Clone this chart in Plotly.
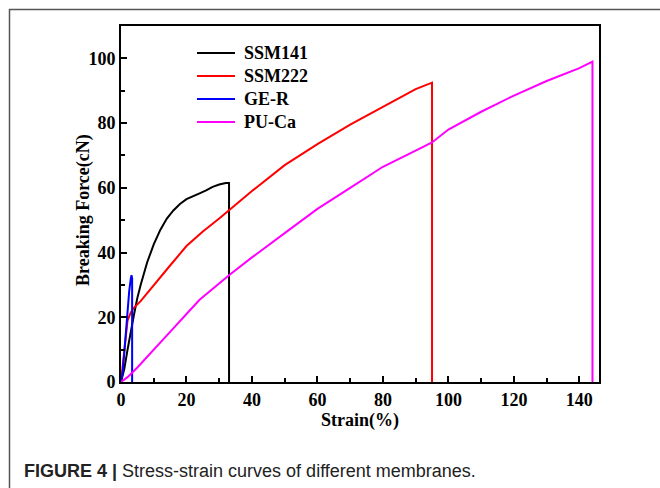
import plotly.graph_objects as go

ssm141_x = [0, 1, 2, 3, 4, 5, 6, 8, 10, 12, 14, 16, 18, 20, 22, 24, 26, 28, 30, 32, 33, 33]
ssm141_y = [0, 4, 10, 16, 21, 26, 30, 37, 42.5, 47, 50.5, 53, 55, 56.5, 57.5, 58.3, 59.2, 60.3, 61, 61.5, 61.5, 0]

ssm222_x = [0, 1, 2, 3, 4, 6, 8, 10, 15, 20, 25, 30, 33, 40, 50, 60, 70, 80, 85, 90, 95, 95]
ssm222_y = [0, 10, 19, 21.5, 23, 25, 27.5, 30, 36, 42, 46.5, 50.5, 53, 59, 67, 73.5, 79.5, 85, 87.5, 90.5, 92.5, 0]

ger_x = [0, 0.5, 1, 1.5, 2, 2.5, 3, 3.2, 3.4, 3.4]
ger_y = [0, 3, 9, 16, 22, 28, 32, 33, 32, 0]

puca_x = [0, 2, 5, 9, 15, 20, 24, 33, 40, 50, 60, 70, 80, 90, 95, 100, 110, 120, 130, 140, 144, 144]
puca_y = [0, 1.5, 4.5, 9, 15.5, 21, 25.4, 33, 38.5, 46, 53.5, 60, 66.5, 71.5, 74, 78, 83.5, 88.5, 93, 97, 99, 0]

names = ["SSM141", "SSM222", "GE-R", "PU-Ca"]
colors = ["#000000", "#ff0000", "#0000ff", "#ff00ff"]
xs = [ssm141_x, ssm222_x, ger_x, puca_x]
ys = [ssm141_y, ssm222_y, ger_y, puca_y]

x_ticks = [0, 20, 40, 60, 80, 100, 120, 140]
y_ticks = [0, 20, 40, 60, 80, 100]

fig = go.Figure()
for n, c, x, y in zip(names, colors, xs, ys):
    fig.add_trace(go.Scatter(x=x, y=y, name=n, mode="lines",
                             line=dict(color=c, width=2), showlegend=False))

serif = "Liberation Serif, Times New Roman, serif"
axis_common = dict(
    showline=True, linecolor="black", linewidth=2, mirror=True,
    ticks="inside", ticklen=6, tickwidth=2, tickcolor="black",
    showgrid=False, zeroline=False,
    minor=dict(ticks="inside", ticklen=4, tickwidth=2, tickcolor="black", dtick=10),
)
fig.update_xaxes(range=[0, 146], tickvals=x_ticks, ticktext=[str(v) for v in x_ticks],
                 tickfont=dict(family=serif, size=18, color="black", weight="bold"),
                 title=dict(text="<b>Strain(%)</b>", font=dict(family=serif, size=18, color="black"), standoff=0),
                 **axis_common)
fig.update_yaxes(range=[0, 110], tickvals=y_ticks, ticktext=[str(v) for v in y_ticks],
                 tickfont=dict(family=serif, size=18, color="black", weight="bold"),
                 **axis_common)

L, R, T, B = 121, 61, 26, 106
W, H = 660, 488
pw, ph = W - L - R, H - T - B

def px_x(p):
    return (p - L) / pw

def px_y(p):
    return (H - B - p) / ph

# y-axis title
fig.add_annotation(xref="paper", yref="paper", x=px_x(84), y=px_y(210),
                   xanchor="center", yanchor="middle", showarrow=False, textangle=-90,
                   text="<b>Breaking Force(cN)</b>",
                   font=dict(family=serif, size=18, color="black"))

# legend (manual)
leg_x0, leg_x1, leg_tx, leg_y0, leg_dy = 197, 235, 242, 53, 23
for i, (n, c) in enumerate(zip(names, colors)):
    yy = leg_y0 + i * leg_dy
    fig.add_shape(type="line", xref="paper", yref="paper",
                  x0=px_x(leg_x0), x1=px_x(leg_x1), y0=px_y(yy), y1=px_y(yy),
                  line=dict(color=c, width=2))
    fig.add_annotation(xref="paper", yref="paper", x=px_x(leg_tx), y=px_y(yy),
                       xanchor="left", yanchor="middle", showarrow=False,
                       text="<b>%s</b>" % n,
                       font=dict(family=serif, size=18, color="black"))

# outer frame
fig.add_shape(type="line", xref="paper", yref="paper",
              x0=px_x(9), x1=px_x(670), y0=px_y(9.5), y1=px_y(9.5),
              line=dict(color="#555555", width=1.5))
fig.add_shape(type="line", xref="paper", yref="paper",
              x0=px_x(9.5), x1=px_x(9.5), y0=px_y(9), y1=px_y(495),
              line=dict(color="#555555", width=1.5))

fig.add_annotation(xref="paper", yref="paper", x=px_x(22), y=px_y(471),
                   xanchor="left", yanchor="middle", showarrow=False,
                   text="<b>FIGURE 4 |</b> Stress-strain curves of different membranes.",
                   font=dict(family="Liberation Sans, Arial, sans-serif",
                             size=18, color="#222222"))

fig.update_layout(
    width=W, height=H,
    margin=dict(l=L, r=R, t=T, b=B),
    paper_bgcolor="white", plot_bgcolor="white",
    showlegend=False,
)

fig.write_html("out.html")
